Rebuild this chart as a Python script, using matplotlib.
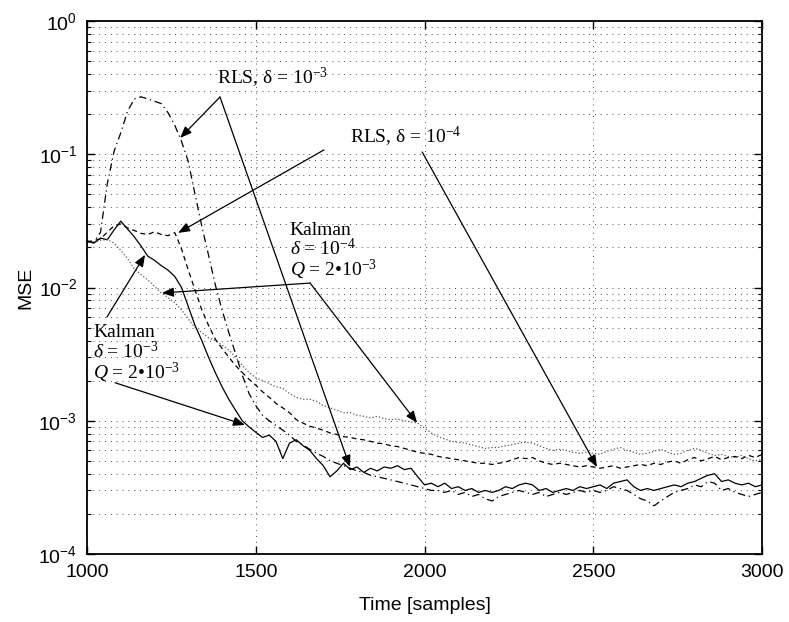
#!/usr/bin/env python3
"""
MSE convergence of Kalman vs RLS adaptive filters (log scale).
"""

import numpy as np
import matplotlib
matplotlib.use("Agg")
import matplotlib.pyplot as plt
from matplotlib.ticker import FuncFormatter, NullLocator

# sample index of every stored MSE value
samples = np.arange(1000, 3001, 20)

# MSE values, in units of 1e-4
kalman_d3 = np.array([
    225, 215, 235, 228, 270, 315, 275, 240, 205, 172,
    160, 146, 135, 121, 100, 72, 52, 40, 30, 23,
    18, 14.5, 12, 10, 9, 8.2, 7.5, 7.8, 7.0, 5.2,
    6.8, 7.2, 6.5, 6.0, 5.2, 4.6, 3.8, 4.2, 4.8, 4.3,
    4.5, 4.1, 4.4, 4.2, 4.5, 4.4, 4.6, 4.3, 4.4, 3.8,
    3.3, 3.4, 3.2, 3.4, 3.1, 3.2, 3.0, 3.1, 2.9, 3.0,
    2.9, 3.0, 3.2, 3.1, 3.3, 3.4, 3.3, 3.0, 3.1, 2.9,
    3.0, 3.1, 3.0, 3.2, 3.1, 3.2, 3.3, 3.1, 3.4, 3.5,
    3.6, 3.2, 3.0, 3.1, 3.0, 3.1, 3.2, 3.3, 3.2, 3.4,
    3.5, 3.7, 3.9, 4.0, 3.5, 3.6, 3.4, 3.3, 3.4, 3.2,
    3.3,
])

kalman_d4 = np.array([
    225, 220, 226, 230, 215, 190, 165, 138, 125, 114,
    102, 91, 84, 77, 68, 58, 50, 46, 42, 40,
    37, 34, 30, 26, 23, 21, 20, 19, 18, 17.5,
    16, 15, 14.5, 14.5, 14, 13, 12.5, 12, 11.5, 11.5,
    11, 10.8, 10.5, 10.8, 10.4, 10.2, 10.3, 10.0, 9.8, 9.6,
    8.8, 8.1, 7.6, 7.3, 7.0, 6.9, 6.8, 6.6, 6.4, 6.2,
    6.3, 6.3, 6.5, 6.6, 6.8, 6.9, 6.8, 6.5, 6.2, 6.0,
    6.1, 6.0, 5.8, 5.7, 5.8, 5.7, 5.6, 5.9, 6.1, 6.3,
    6.0, 5.8, 5.6, 5.7, 5.9, 6.1, 5.8, 5.6, 5.7, 6.0,
    6.2, 6.0, 5.7, 5.5, 5.6, 5.4, 5.3, 5.5, 5.2, 5.0,
    5.1,
])

rls_d4 = np.array([
    220, 225, 232, 260, 290, 300, 280, 268, 255, 250,
    262, 250, 245, 258, 195, 135, 96, 68, 52, 41,
    35, 30, 26, 23, 20.5, 18.5, 16.5, 15, 13.5, 12.5,
    11.5, 10.2, 9.6, 9.1, 8.8, 8.5, 8.1, 7.9, 7.6, 7.5,
    7.3, 7.2, 7.0, 6.8, 6.7, 6.5, 6.4, 6.2, 6.0, 5.8,
    5.7, 5.6, 5.4, 5.3, 5.2, 5.1, 5.0, 4.9, 4.8, 4.8,
    4.7, 4.8, 4.9, 5.1, 5.3, 5.2, 5.3, 5.0, 4.8, 4.7,
    4.8, 4.7, 4.6, 4.5, 4.6, 4.5, 4.4, 4.5, 4.6, 4.4,
    4.5, 4.6, 4.7, 4.6, 4.8, 4.7, 4.9, 5.0, 4.8, 5.1,
    5.3, 5.0, 5.2, 5.4, 5.1, 5.3, 5.4, 5.2, 5.5, 5.3,
    5.6,
])

rls_d3 = np.array([
    220, 218, 260, 600, 1050, 1450, 2100, 2600, 2700, 2600,
    2500, 2400, 2050, 1650, 1250, 880, 500, 290, 175, 105,
    68, 46, 32, 22, 16, 13, 11, 10, 9.2, 8.5,
    7.8, 7.0, 6.6, 6.1, 5.7, 5.4, 5.0, 4.8, 4.6, 4.4,
    4.2, 4.1, 3.9, 3.8, 3.7, 3.6, 3.5, 3.4, 3.3, 3.2,
    3.1, 3.0, 3.0, 2.9, 3.0, 2.8, 2.9, 2.7, 2.8, 2.6,
    2.5, 2.7, 2.8, 2.9, 3.0, 2.9, 2.8, 2.9, 2.7, 2.8,
    2.9, 2.8, 2.9, 3.0, 2.9, 3.0, 2.9, 3.0, 3.2, 3.1,
    3.0, 2.8, 2.6, 2.5, 2.3, 2.5, 2.7, 2.9, 3.0, 3.1,
    3.3, 3.2, 3.5, 3.4, 3.0, 3.1, 2.9, 2.8, 2.7, 2.8,
    2.9,
])

x_ticks = [1000, 1500, 2000, 2500, 3000]

plt.rcParams['font.family'] = ['Liberation Sans', 'DejaVu Sans']
plt.rcParams['mathtext.fontset'] = 'custom'
plt.rcParams['mathtext.rm'] = 'Liberation Serif'
plt.rcParams['mathtext.it'] = 'Liberation Serif:italic'
plt.rcParams['mathtext.sf'] = 'Liberation Sans'
plt.rcParams['axes.unicode_minus'] = False

fig = plt.figure(figsize=(7.89, 6.22), dpi=100)
ax = fig.add_axes([0.1103, 0.1093, 0.8555, 0.8569])

ax.semilogy(samples, kalman_d3 * 1e-4, color='k', lw=0.9)
ax.semilogy(samples, kalman_d4 * 1e-4, color='0.35', lw=0.9, ls=':')
ax.semilogy(samples, rls_d4 * 1e-4, color='k', lw=0.9, dashes=(4, 3))
ax.semilogy(samples, rls_d3 * 1e-4, color='k', lw=0.9, dashes=(6, 3, 1, 3))

ax.set_xlim(1000, 3000)
ax.set_ylim(1e-4, 1)
ax.set_xticks(x_ticks)
ax.xaxis.set_minor_locator(NullLocator())
ax.yaxis.set_major_formatter(
    FuncFormatter(lambda v, p: r'$\mathsf{10^{%d}}$' % round(np.log10(v))))

ax.tick_params(which='both', direction='in', top=True, right=True, labelsize=14)
ax.tick_params(which='major', length=6, width=1, pad=7)
ax.tick_params(which='minor', length=3, width=0.8)
for sp in ax.spines.values():
    sp.set_linewidth(1.3)

grid_style = dict(ls=(0, (1, 5)), color='0.3', lw=0.7)
ax.grid(True, which='both', axis='y', **grid_style)
ax.grid(True, which='major', axis='x', **grid_style)

ax.set_xlabel('Time [samples]', fontsize=14, labelpad=12)
ax.set_ylabel('MSE', fontsize=14, labelpad=3)

# annotations
txt = dict(family='Liberation Serif', fontsize=14, ha='left', va='center')
arrow = dict(arrowstyle='-|>,head_length=0.5,head_width=0.2', color='k',
             lw=0.9, shrinkA=0, shrinkB=0, mutation_scale=14)

def pointer(start, end):
    ax.annotate('', xy=end, xytext=start, arrowprops=arrow)

ax.text(1385, 0.374, r'RLS, δ = 10$^{-3}$', **txt)
pointer((1394, 0.269), (1276, 0.1326))
pointer((1394, 0.269), (1779, 4.5e-4))

ax.text(1779, 0.135, r'RLS, δ = 10$^{-4}$', **txt)
pointer((1702, 0.1078), (1270, 0.0257))
pointer((1993, 0.104), (2511, 4.5e-4))

ax.text(1601, 0.0185, 'Kalman\n' r'$\delta$ = 10$^{-4}$' '\n' r'$Q$ = 2•10$^{-3}$',
        linespacing=0.95, **txt)
pointer((1661, 0.0108), (1222, 0.0091))
pointer((1661, 0.0108), (1978, 9.66e-4))

ax.text(1018, 0.00313, 'Kalman\n' r'$\delta$ = 10$^{-3}$' '\n' r'$Q$ = 2•10$^{-3}$',
        linespacing=0.95, **txt)
pointer((1059, 0.006), (1172, 0.0176))
pointer((1083, 1.93e-3), (1468, 9.3e-4))

fig.savefig('out.png', dpi=100)
